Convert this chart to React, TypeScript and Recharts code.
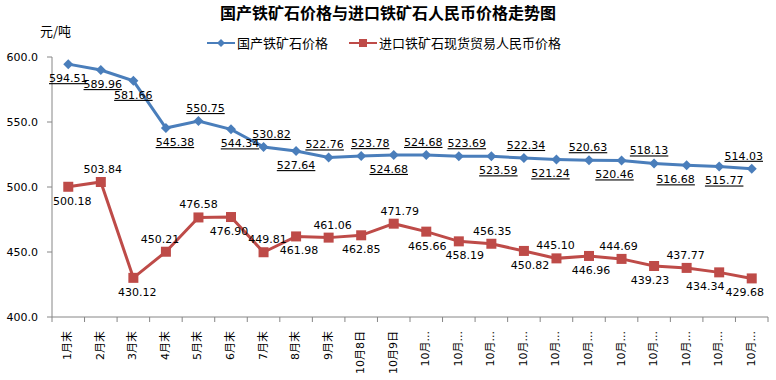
import React from 'react';
import { LineChart, Line, XAxis, YAxis, LabelList } from 'recharts';

// 日期（x轴）
const categories = [
  '1月末', '2月末', '3月末', '4月末', '5月末', '6月末', '7月末', '8月末', '9月末',
  '10月8日', '10月9日',
  '10月...', '10月...', '10月...', '10月...', '10月...', '10月...',
  '10月...', '10月...', '10月...', '10月...', '10月...',
];

// 国产铁矿石价格
const domesticPrice = [
  594.51, 589.96, 581.66, 545.38, 550.75, 544.34, 530.82, 527.64, 522.76,
  523.78, 524.68, 524.68, 523.69, 523.59, 522.34, 521.24, 520.63, 520.46,
  518.13, 516.68, 515.77, 514.03,
];

// 进口铁矿石现货贸易人民币价格
const importPrice = [
  500.18, 503.84, 430.12, 450.21, 476.58, 476.9, 449.81, 461.98, 461.06,
  462.85, 471.79, 465.66, 458.19, 456.35, 450.82, 445.1, 446.96, 444.69,
  439.23, 437.77, 434.34, 429.68,
];

const yTicks = [400, 450, 500, 550, 600];

// 数据标签：放在点下方的序号（其余在上方），以及水平微调
const domesticBelow = [0, 1, 2, 3, 5, 7, 10, 13, 15, 17, 19, 20];
const importBelow = [0, 2, 5, 7, 9, 11, 12, 14, 16, 18, 20, 21];
const domesticShift = [0, 2, 0, 9, 7, 9, 8, 0, -4, 9, -5, -3, 8, 7, 2, -6, -1, -7, -5, -11, 5, -8];
const importShift = [4, 2, 4, -6, 0, -2, 4, 3, 4, 0, 6, 1, 6, 1, 6, -1, 2, -3, -4, -1, -14, -7];

const data = categories.map((name, i) => ({
  name,
  domestic: domesticPrice[i],
  imported: importPrice[i],
}));

const W = 776;
const H = 380;
const LEFT = 52;
const RIGHT = 8;
const PLOT_W = W - LEFT - RIGHT;
const BAND = PLOT_W / categories.length;
const BLUE = '#4A7EBB';
const RED = '#BE4B48';
const AXIS = '#868686';
const FONT = '"DejaVu Sans", "Noto Sans CJK SC", sans-serif';
const CJK = '"Noto Sans CJK SC", sans-serif';

const Diamond = (props: any) => {
  const { cx, cy, index } = props;
  if (cx == null || cy == null) return null;
  const r = 5;
  return (
    <polygon
      key={`d-${index}`}
      points={`${cx},${cy - r} ${cx + r},${cy} ${cx},${cy + r} ${cx - r},${cy}`}
      fill={BLUE}
    />
  );
};

const Square = (props: any) => {
  const { cx, cy, index } = props;
  if (cx == null || cy == null) return null;
  return <rect key={`s-${index}`} x={cx - 5} y={cy - 5} width={10} height={10} fill={RED} />;
};

const makeLabel = (below: number[], shift: number[], underline: boolean) => (props: any) => {
  const x = props.x ?? props.viewBox?.x;
  const y = props.y ?? props.viewBox?.y;
  const { value, index } = props;
  if (x == null || y == null) return null;
  const isBelow = below.includes(index);
  return (
    <text
      x={x + (shift[index] || 0)}
      y={isBelow ? y + 18 : y - 9}
      textAnchor="middle"
      fontSize={11}
      fontFamily={FONT}
      fill="#000"
      textDecoration={underline ? 'underline' : undefined}
    >
      {Number(value).toFixed(2)}
    </text>
  );
};

const XTick = (props: any) => {
  const { x, y, payload, index } = props;
  return (
    <g>
      <line x1={x - BAND / 2} y1={y} x2={x - BAND / 2} y2={y + 5} stroke={AXIS} />
      {index === categories.length - 1 && (
        <line x1={x + BAND / 2} y1={y} x2={x + BAND / 2} y2={y + 5} stroke={AXIS} />
      )}
      <text
        x={x + 3}
        y={y + 14}
        transform={`rotate(-90, ${x + 3}, ${y + 14})`}
        textAnchor="end"
        fontSize={11}
        fontFamily={FONT}
        fill="#000"
      >
        {payload.value}
      </text>
    </g>
  );
};

const LegendItem = ({ color, square, label }: { color: string; square: boolean; label: string }) => (
  <div style={{ display: 'flex', alignItems: 'center' }}>
    <svg width={30} height={10}>
      <line x1={1} y1={5} x2={29} y2={5} stroke={color} strokeWidth={2} />
      {square ? (
        <rect x={11} y={1} width={8} height={8} fill={color} />
      ) : (
        <polygon points="15,1 19,5 15,9 11,5" fill={color} />
      )}
    </svg>
    <span style={{ marginLeft: 1 }}>{label}</span>
  </div>
);

export default function App() {
  return (
    <div style={{ position: 'absolute', left: 0, top: 0, width: W, height: H, background: '#fff' }}>
      <div
        style={{
          position: 'absolute',
          top: 2,
          left: 0,
          width: W,
          textAlign: 'center',
          fontFamily: CJK,
          fontWeight: 'bold',
          fontSize: 16,
          lineHeight: '20px',
        }}
      >
        国产铁矿石价格与进口铁矿石人民币价格走势图
      </div>
      <div style={{ position: 'absolute', top: 22, left: 40, fontFamily: CJK, fontSize: 13, lineHeight: '18px' }}>
        元/吨
      </div>
      <div
        style={{
          position: 'absolute',
          top: 34,
          left: 206,
          display: 'flex',
          gap: 20,
          fontFamily: CJK,
          fontSize: 13,
          lineHeight: '18px',
        }}
      >
        <LegendItem color={BLUE} square={false} label="国产铁矿石价格" />
        <LegendItem color={RED} square label="进口铁矿石现货贸易人民币价格" />
      </div>
      <LineChart
        width={W}
        height={H}
        data={data}
        margin={{ top: 57, right: RIGHT, bottom: 0, left: 0 }}
        style={{ position: 'absolute', left: 0, top: 0 }}
      >
        <XAxis
          dataKey="name"
          interval={0}
          height={63}
          padding={{ left: BAND / 2, right: BAND / 2 }}
          tickLine={false}
          tickSize={0}
          tickMargin={0}
          axisLine={{ stroke: AXIS }}
          tick={<XTick />}
        />
        <YAxis
          width={LEFT}
          domain={[400, 600]}
          ticks={yTicks}
          tickFormatter={(v: number) => v.toFixed(1)}
          tickSize={5}
          tickMargin={9}
          tickLine={{ stroke: AXIS }}
          axisLine={{ stroke: AXIS }}
          tick={{ fontSize: 11, fontFamily: FONT, fill: '#000' }}
        />
        <Line
          dataKey="domestic"
          stroke={BLUE}
          strokeWidth={3}
          dot={<Diamond />}
          activeDot={false}
          isAnimationActive={false}
        >
          <LabelList dataKey="domestic" content={makeLabel(domesticBelow, domesticShift, true)} />
        </Line>
        <Line
          dataKey="imported"
          stroke={RED}
          strokeWidth={3}
          dot={<Square />}
          activeDot={false}
          isAnimationActive={false}
        >
          <LabelList dataKey="imported" content={makeLabel(importBelow, importShift, false)} />
        </Line>
      </LineChart>
    </div>
  );
}
